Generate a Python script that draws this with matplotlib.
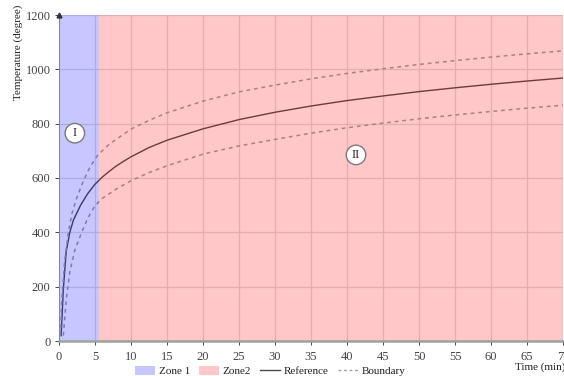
import matplotlib
matplotlib.use("Agg")
import matplotlib.pyplot as plt
from matplotlib.patches import Patch
from matplotlib.lines import Line2D

plt.rcParams['font.family'] = ['Liberation Serif', 'DejaVu Serif']

# Reference heating curve (time in min, temperature in degree)
ref_time = [0.3, 0.6, 1.0, 1.5, 2.0, 3.0, 4.0, 5.0, 6.0, 7.0, 8.0, 9.0, 10.0,
            12.5, 15, 20, 25, 30, 35, 40, 45, 50, 55, 60, 65, 70]
ref_temp = [20, 190, 330, 400, 445, 500, 543, 577, 603, 625, 645, 662, 678,
            712, 739, 781, 815, 842, 865, 885, 902, 918, 932, 945, 957, 968]

# Upper boundary
up_time = [0.2, 0.4, 0.8, 1.3, 1.8, 2.5, 3.4, 4.3, 5.4, 7.0, 10.0, 12.5,
           15, 20, 25, 30, 35, 40, 45, 50, 55, 60, 65, 70]
up_temp = [20, 160, 300, 400, 470, 530, 590, 640, 685, 725, 780, 812,
           840, 883, 917, 942, 965, 985, 1002, 1018, 1032, 1045, 1057, 1068]

# Lower boundary
low_time = [0.6, 1.0, 1.5, 2.2, 3.15, 4.0, 5.0, 6.0, 8.0, 10.0, 12.5, 15,
            20, 25, 30, 35, 40, 45, 50, 55, 60, 65, 70]
low_temp = [20, 150, 255, 335, 400, 452, 498, 525, 560, 590, 620, 645,
            688, 718, 742, 765, 785, 802, 818, 832, 845, 857, 868]

zone_split = 5.5
x_ticks = list(range(0, 71, 5))
y_ticks = list(range(0, 1201, 200))

fig = plt.figure(figsize=(5.64, 3.76), dpi=100)
ax = fig.add_axes([59 / 564, 1 - 341 / 376, 504 / 564, 326 / 376])

ax.set_xlim(0, 70)
ax.set_ylim(0, 1200)
ax.set_xticks(x_ticks)
ax.set_yticks(y_ticks)

ax.grid(True, color='#dedede', linewidth=0.9, zorder=0)
ax.set_axisbelow(True)

ax.plot(ref_time, ref_temp, color='#4a4a4a', linewidth=1.0, zorder=1)
ax.plot(up_time, up_temp, color='#a0a0a0', linewidth=1.1,
        linestyle=(0, (2.5, 2.5)), zorder=1)
ax.plot(low_time, low_temp, color='#a0a0a0', linewidth=1.1,
        linestyle=(0, (2.5, 2.5)), zorder=1)

ax.axvspan(0, zone_split, color='#0000ff', alpha=0.22, lw=0, zorder=2)
ax.axvspan(zone_split, 70, color='#ff0000', alpha=0.22, lw=0, zorder=2)

circ = dict(boxstyle='circle,pad=0.3', facecolor='white',
            edgecolor='#7a7a7a', linewidth=1.0)
ax.text(2.2, 765, 'I', ha='center', va='center', fontsize=9,
        color='#222222', bbox=circ, zorder=5)
ax.text(41.25, 685, 'II', ha='center', va='center', fontsize=9,
        color='#222222', bbox=circ, zorder=5)

for side in ('top', 'right'):
    ax.spines[side].set_visible(False)
ax.spines['left'].set_color('#8a8a8a')
ax.spines['left'].set_linewidth(0.8)
ax.spines['bottom'].set_color('#a0a0a0')
ax.spines['bottom'].set_linewidth(1.8)

ax.tick_params(axis='both', labelsize=9, colors='#444444', length=3,
               width=0.7, pad=3)
ax.tick_params(axis='x', pad=4)

# arrow head on top of the y axis
ax.plot(0, 1, marker='^', color='#333333', markersize=3.5,
        transform=ax.get_xaxis_transform(), clip_on=False, zorder=6)

fig.text(18 / 564, 1 - 5 / 376, 'Temperature (degree)', rotation=90,
         ha='center', va='top', fontsize=8, color='#222222')
fig.text(515 / 564, 1 - 367 / 376, 'Time (min)', ha='left', va='center',
         fontsize=8, color='#222222')

handles = [
    Patch(facecolor='#c7c7ff', edgecolor='none', label='Zone 1'),
    Patch(facecolor='#ffc7c7', edgecolor='none', label='Zone2'),
    Line2D([], [], color='#4a4a4a', linewidth=1.0, label='Reference'),
    Line2D([], [], color='#9a9a9a', linewidth=1.0, linestyle=(0, (2, 2)),
           label='Boundary'),
]
fig.legend(handles=handles, loc='center', bbox_to_anchor=(270 / 564, 1 - 371 / 376),
           ncol=4, frameon=False, fontsize=8, handlelength=1.8,
           handleheight=0.9, handletextpad=0.35, columnspacing=0.8,
           borderpad=0, labelcolor='#222222')

fig.savefig('out.png', dpi=100)
